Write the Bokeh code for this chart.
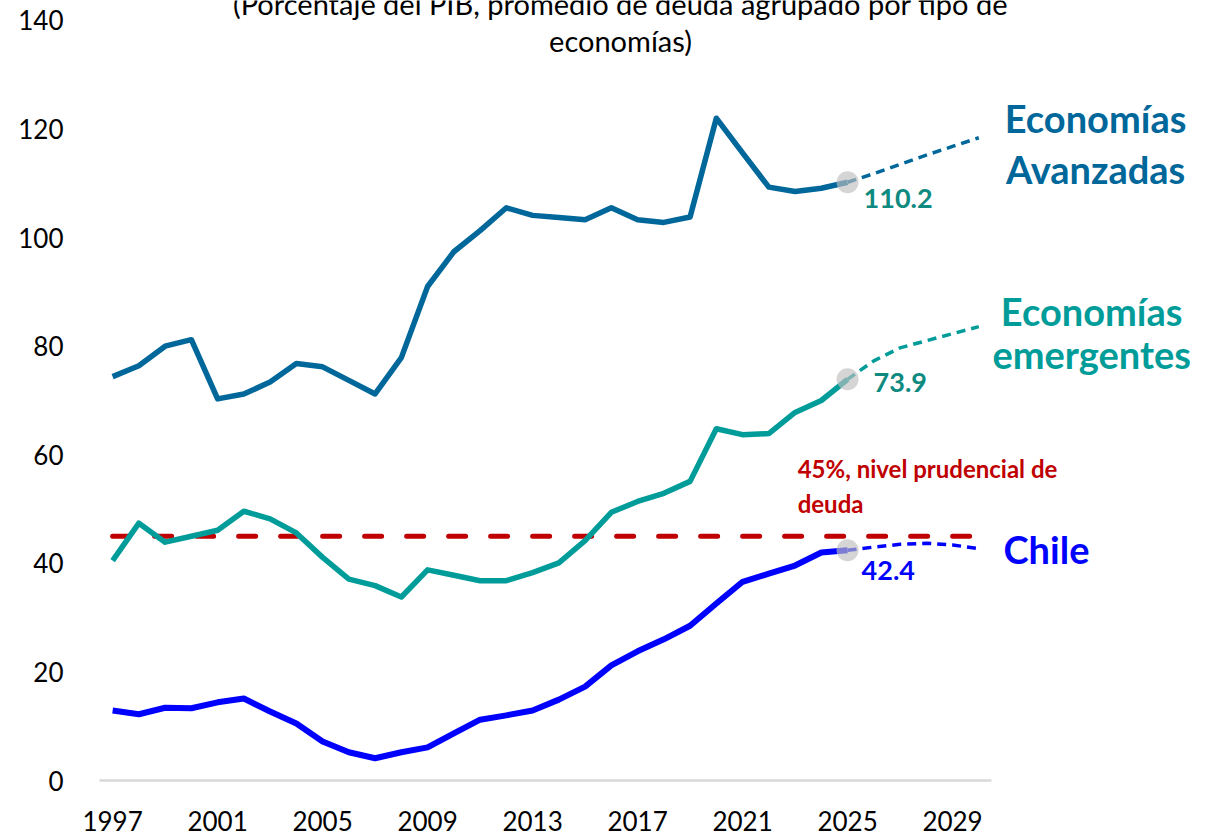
from bokeh.plotting import figure
from bokeh.models import FixedTicker, Range1d
from bokeh.core.properties import value
from bokeh.embed import file_html
from bokeh.resources import INLINE

# ---------------- data ----------------
years = list(range(1997, 2026))
proj_years = list(range(2025, 2031))
tick_years = [1997, 2001, 2005, 2009, 2013, 2017, 2021, 2025, 2029]
y_ticks = [0, 20, 40, 60, 80, 100, 120, 140]

advanced = [74.4, 76.4, 80.0, 81.2, 70.3, 71.2, 73.4, 76.8, 76.2, 73.7,
            71.2, 77.9, 91.0, 97.4, 101.3, 105.5, 104.1, 103.7, 103.3, 105.5,
            103.3, 102.8, 103.8, 122.0, 115.6, 109.3, 108.5, 109.1, 110.2]
emerging = [40.5, 47.4, 43.9, 45.0, 46.1, 49.6, 48.2, 45.6, 41.1, 37.1,
            35.9, 33.8, 38.8, 37.8, 36.8, 36.8, 38.3, 40.1, 44.2, 49.4,
            51.4, 52.9, 55.1, 64.8, 63.7, 63.9, 67.8, 70.0, 73.9]
chile = [12.9, 12.2, 13.4, 13.3, 14.4, 15.1, 12.7, 10.5, 7.2, 5.2,
         4.1, 5.2, 6.1, 8.7, 11.2, 12.0, 12.9, 14.9, 17.3, 21.2,
         23.8, 26.0, 28.5, 32.6, 36.6, 38.1, 39.6, 42.0, 42.4]

advanced_proj = [110.2, 111.8, 113.5, 115.2, 116.8, 118.4]
emerging_proj = [73.9, 77.3, 79.7, 81.0, 82.3, 83.6]
chile_proj = [42.4, 43.0, 43.5, 43.7, 43.4, 42.7]

prudent_level = 45

title_lines = ["(Porcentaje del PIB, promedio de deuda agrupado por tipo de",
               "economías)"]

# ---------------- style ----------------
C_ADV = "#00679A"
C_EM = "#009C99"
C_EM_VAL = "#0E8A80"
C_CHILE = "#0000FF"
C_RED = "#C00000"
FONT = "Lato"

p = figure(width=1214, height=836, output_backend="svg", toolbar_location=None,
           x_range=Range1d(1996.5, 2038.98), y_range=Range1d(0, 143.68),
           min_border_left=99, min_border_right=0, min_border_top=0,
           min_border_bottom=56)
p.outline_line_color = None
p.xgrid.visible = False
p.ygrid.visible = False
p.background_fill_color = "white"

xa = p.xaxis[0]
xa.ticker = FixedTicker(ticks=tick_years)
xa.bounds = (1996.5, 2030.5)
xa.axis_line_color = "#D9D9D9"
xa.axis_line_width = 2.5
xa.major_tick_line_color = None
xa.minor_tick_line_color = None
xa.major_label_text_font = FONT
xa.major_label_text_font_size = "26px"
xa.major_label_text_color = "#000000"
xa.major_label_standoff = 24

ya = p.yaxis[0]
ya.ticker = FixedTicker(ticks=y_ticks)
ya.axis_line_color = None
ya.major_tick_line_color = None
ya.minor_tick_line_color = None
ya.major_label_text_font = FONT
ya.major_label_text_font_size = "26px"
ya.major_label_text_color = "#000000"
ya.major_label_standoff = 30

# prudential threshold
p.line([years[0], proj_years[-1]], [prudent_level, prudent_level],
       line_color=C_RED, line_width=5, line_dash="17 25", line_cap="round")

# historical series
p.line(years, advanced, line_color=C_ADV, line_width=5.5, line_join="round")
p.line(years, emerging, line_color=C_EM, line_width=5.5, line_join="round")
p.line(years, chile, line_color=C_CHILE, line_width=6, line_join="round")

# projections
p.line(proj_years, advanced_proj, line_color=C_ADV, line_width=3.5, line_dash="9 6")
p.line(proj_years, emerging_proj, line_color=C_EM, line_width=3.5, line_dash="9 6")
p.line(proj_years, chile_proj, line_color=C_CHILE, line_width=3.5, line_dash="9 6")

# highlight last observed point
last_year = years[-1]
p.scatter([last_year] * 3, [advanced[-1], emerging[-1], chile[-1]], size=22,
          fill_color="#BFBFBF", fill_alpha=0.65, line_color=None)

# value labels
for val, col, dx, dy in [(advanced[-1], C_EM_VAL, 16, 16),
                         (emerging[-1], C_EM_VAL, 26, 3),
                         (chile[-1], C_CHILE, 14, 20)]:
    p.text([last_year], [val], text=[f"{val:.1f}"], x_offset=dx, y_offset=dy,
           text_font=value(FONT), text_font_style="bold", text_font_size="27px",
           text_color=col, text_align="left", text_baseline="middle")

# series names
p.text([2034.45, 2034.45], [122.1, 112.7], text=["Economías", "Avanzadas"],
       text_font=value(FONT), text_font_style="bold", text_font_size="38px",
       text_color=C_ADV, text_align="center", text_baseline="middle")
p.text([2034.3, 2034.3], [86.4, 78.5], text=["Economías", "emergentes"],
       text_font=value(FONT), text_font_style="bold", text_font_size="38px",
       text_color=C_EM, text_align="center", text_baseline="middle")
p.text([2030.94], [42.7], text=["Chile"],
       text_font=value(FONT), text_font_style="bold", text_font_size="38px",
       text_color=C_CHILE, text_align="left", text_baseline="middle")

# threshold annotation
p.text([2023.1, 2023.1], [57.5, 51.0], text=["45%, nivel prudencial de", "deuda"],
       text_font=value(FONT), text_font_style="bold", text_font_size="24px",
       text_color=C_RED, text_align="left", text_baseline="middle")

# title
p.text([2016.35, 2016.35], [143.1, 136.3], text=title_lines,
       text_font=value(FONT), text_font_size="29px",
       text_color="#000000", text_align="center", text_baseline="middle")

open("out.html", "w").write(file_html(p, INLINE))
